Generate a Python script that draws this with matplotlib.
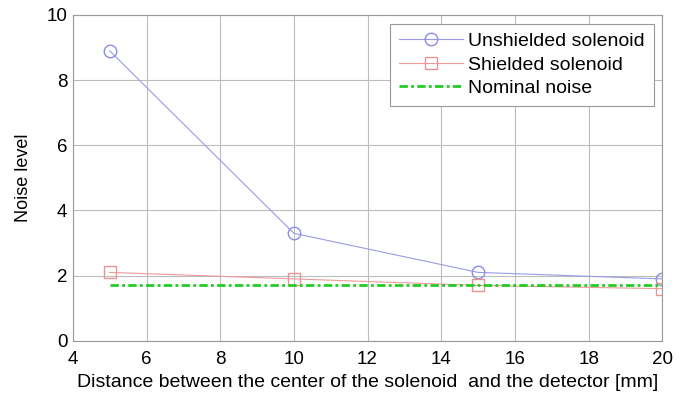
import matplotlib
matplotlib.use("Agg")
import matplotlib.pyplot as plt

plt.rcParams['font.family'] = ['Liberation Sans', 'DejaVu Sans']

# Data
distance = [5, 10, 15, 20]
unshielded = [8.9, 3.3, 2.1, 1.9]
shielded = [2.1, 1.9, 1.7, 1.6]
nominal = [1.7, 1.7, 1.7, 1.7]

fig = plt.figure(figsize=(6.87, 3.94), dpi=100)
ax = fig.add_axes([0.106, 0.135, 0.858, 0.827])

ax.plot(distance, unshielded, color='#9a9ae8', linewidth=0.8, marker='o',
        markersize=9, markerfacecolor='none', markeredgecolor='#8c8ce6',
        label='Unshielded solenoid')
ax.plot(distance, shielded, color='#ee9a9a', linewidth=0.8, marker='s',
        markersize=9, markerfacecolor='none', markeredgecolor='#e89494',
        label='Shielded solenoid')
ax.plot(distance, nominal, color='#22cc22', linewidth=2,
        dashes=[3, 1.2, 1, 1.2], label='Nominal noise')

ax.set_xlim(4, 20)
ax.set_ylim(0, 10)
ax.set_xticks(range(4, 21, 2))
ax.set_yticks(range(0, 11, 2))
ax.grid(True, color='#bdbdbd', linewidth=0.8)
ax.tick_params(labelsize=13.5, direction='in', length=0, pad=4)
ax.tick_params(axis='x', pad=7.5)
for s in ax.spines.values():
    s.set_color('#999999')

ax.set_xlabel('Distance between the center of the solenoid  and the detector [mm]',
              fontsize=14, labelpad=4)
ax.set_ylabel('Noise level', fontsize=13, labelpad=10.5)

leg = ax.legend(loc='upper right', fontsize=14, fancybox=False,
                edgecolor='#999999', framealpha=1, handlelength=3.3,
                borderaxespad=0.45, labelspacing=0.3, handletextpad=0.25,
                borderpad=0.45)
leg.get_frame().set_linewidth(0.8)

fig.savefig('out.png', dpi=100)
